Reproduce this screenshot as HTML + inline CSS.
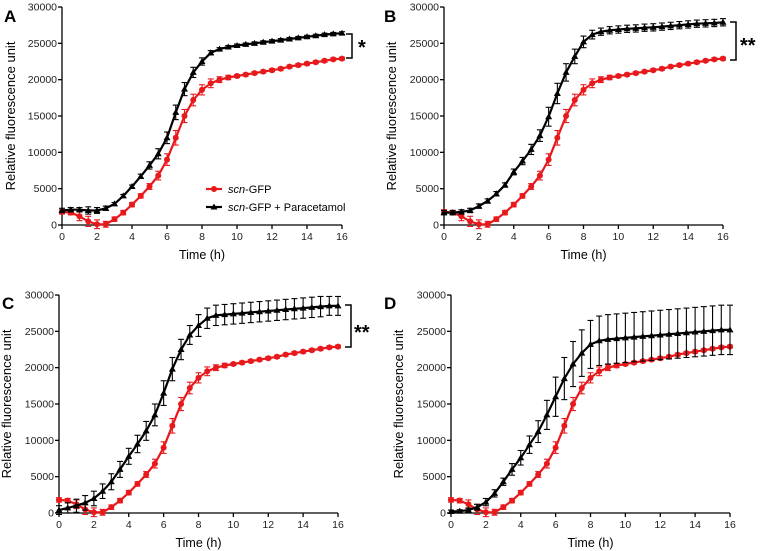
<!DOCTYPE html>
<html><head><meta charset="utf-8"><style>
html,body{margin:0;padding:0;background:#fff;}
svg{display:block;font-family:"Liberation Sans",Arial,sans-serif;}
</style></head><body>
<svg id="fig" width="760" height="551" viewBox="0 0 760 551"></svg>
<script>
const times = [];
for (let i = 0; i <= 32; i++) times.push(i * 0.5);
const yTicks = [0, 5000, 10000, 15000, 20000, 25000, 30000];
const xTicks = [0, 2, 4, 6, 8, 10, 12, 14, 16];
const redVals = [1800,1700,1200,500,100,100,800,1700,2800,4000,5300,6800,9000,12000,15000,17200,18600,19500,20000,20300,20500,20700,20900,21100,21300,21500,21800,22000,22200,22400,22600,22800,22900];
const redErr = [300,300,600,700,600,400,300,300,300,300,400,600,800,1000,900,800,700,600,400,300,200,200,200,200,200,200,200,200,200,200,200,200,200];
const blackA = [2000,2100,2100,2000,2000,2300,2900,4000,5300,6700,8200,9800,12000,15500,18700,21000,22500,23700,24200,24500,24700,24850,25000,25150,25300,25450,25600,25750,25900,26050,26200,26300,26400];
const errA = [300,300,300,500,400,300,200,200,200,300,500,700,800,1000,900,700,500,300,200,200,200,200,200,200,200,200,200,200,200,200,200,200,200];
const blackB = [1700,1700,1800,2000,2600,3300,4300,5500,7300,8800,10400,12300,14900,18100,21000,23200,25200,26200,26600,26800,26900,27000,27050,27150,27200,27300,27400,27500,27600,27700,27750,27800,27900];
const errB = [300,300,300,300,300,300,300,300,400,500,700,800,1300,1400,1200,1000,800,600,500,500,500,500,500,500,500,500,500,500,500,500,500,500,500];
const blackC = [400,700,1000,1400,2000,3000,4300,6000,7800,9500,11300,13500,16500,19800,22500,24500,25800,26800,27200,27300,27400,27500,27600,27700,27800,27900,28000,28100,28200,28300,28400,28500,28500];
const errC = [600,700,900,1000,1000,1000,1100,1100,1100,1200,1300,1500,1700,1600,1400,1300,1500,1400,1400,1400,1400,1400,1400,1400,1400,1400,1400,1400,1400,1400,1400,1300,1300];
const blackD = [200,250,400,800,1500,2700,4300,6000,7600,9400,11200,13500,16000,18500,20500,22000,23200,23700,23900,24000,24100,24200,24300,24400,24500,24600,24700,24800,24900,25000,25100,25200,25200];
const errD = [200,200,300,400,500,500,500,800,1000,1200,1500,2000,2700,2900,3100,3200,3300,3400,3400,3400,3400,3400,3400,3400,3400,3400,3400,3400,3400,3400,3400,3400,3400];

const NS = "http://www.w3.org/2000/svg";
const svg = document.getElementById("fig");
function mk(tag, attrs, parent) {
  const e = document.createElementNS(NS, tag);
  for (const k in attrs) e.setAttribute(k, attrs[k]);
  (parent || svg).appendChild(e);
  return e;
}

const panels = [
  {id:"a", label:"A", lx:4, ly:22, x0:62, x1:342, y0:225, y1:7, ytx:15, black:blackA, berr:errA, br:{x:352, ya:34, yb:58, s:"*", sx:358, sy:54}},
  {id:"b", label:"B", lx:384, ly:22, x0:444, x1:723, y0:225, y1:7, ytx:396, black:blackB, berr:errB, br:{x:736, ya:22, yb:60, s:"**", sx:740, sy:52}},
  {id:"c", label:"C", lx:2, ly:309, x0:59, x1:338, y0:513, y1:295, ytx:11, black:blackC, berr:errC, br:{x:351, ya:305, yb:347, s:"**", sx:354, sy:339}},
  {id:"d", label:"D", lx:384, ly:309, x0:451, x1:730, y0:513, y1:295, ytx:403, black:blackD, berr:errD, br:null}
];

panels.forEach(p => {
  const g = mk("g", {});
  
  
  const sx = t => p.x0 + (p.x1 - p.x0) * t / 16;
  const sy = v => p.y0 - (p.y0 - p.y1) * v / 30000;

  const lab = mk("text", {x:p.lx, y:p.ly, "font-size":"17", "font-weight":"bold"}, g);
  lab.textContent = p.label;
  
  

  const ax = mk("g", {stroke:"#000", "stroke-width":"1.3", fill:"none"}, g);
  
  
  mk("line", {x1:p.x0, y1:p.y0, x2:p.x0, y2:p.y1}, ax);
  mk("line", {x1:p.x0, y1:p.y0, x2:p.x1, y2:p.y0}, ax);
  yTicks.forEach(v => {
    mk("line", {x1:p.x0-4, y1:sy(v), x2:p.x0, y2:sy(v)}, ax);
    const t = mk("text", {x:p.x0-5, y:sy(v)+3.5, "font-size":"10.5", "text-anchor":"end", fill:"#222"}, g);
    t.textContent = v;
    
    
  });
  xTicks.forEach(v => {
    mk("line", {x1:sx(v), y1:p.y0, x2:sx(v), y2:p.y0+4}, ax);
    const t = mk("text", {x:sx(v), y:p.y0+15, "font-size":"10.5", "text-anchor":"middle", fill:"#222"}, g);
    t.textContent = v;
    
    
  });
  const cy = (p.y0 + p.y1) / 2;
  const yt = mk("text", {x:p.ytx, y:cy, "font-size":"13", "text-anchor":"middle", transform:`rotate(-90 ${p.ytx} ${cy})`}, g);
  yt.textContent = "Relative fluorescence unit";
  
  
  const xt = mk("text", {x:(p.x0+p.x1)/2, y:p.y0+34, "font-size":"12.5", "text-anchor":"middle"}, g);
  xt.textContent = "Time (h)";
  
  

  function series(vals, errs, color, marker, name) {
    const sg = mk("g", {}, g);
    
    
    const eg = mk("g", {stroke:color, "stroke-width":"1.1"}, sg);
    vals.forEach((v, i) => {
      const x = sx(times[i]), e = errs[i];
      mk("line", {x1:x, y1:sy(v-e), x2:x, y2:sy(v+e)}, eg);
      mk("line", {x1:x-3, y1:sy(v+e), x2:x+3, y2:sy(v+e)}, eg);
      mk("line", {x1:x-3, y1:sy(v-e), x2:x+3, y2:sy(v-e)}, eg);
    });
    const d = vals.map((v, i) => (i ? "L" : "M") + sx(times[i]).toFixed(1) + " " + sy(v).toFixed(1)).join(" ");
    mk("path", {d:d, stroke:color, "stroke-width":"2.2", fill:"none"}, sg);
    vals.forEach((v, i) => {
      const x = sx(times[i]), y = sy(v);
      if (marker === "c") mk("circle", {cx:x, cy:y, r:3, fill:color}, sg);
      else mk("path", {d:`M${x} ${y-3.5} L${x+3.5} ${y+2.5} L${x-3.5} ${y+2.5} Z`, fill:color}, sg);
    });
  }
  series(redVals, redErr, "#e8191c", "c", "series-scn-gfp");
  series(p.black, p.berr, "#000", "t", "series-scn-gfp-paracetamol");

  if (p.br) {
    const b = p.br;
    const bg = mk("g", {}, g);
    
    
    mk("path", {d:`M${b.x-6} ${b.ya} L${b.x} ${b.ya} L${b.x} ${b.yb} L${b.x-6} ${b.yb}`, stroke:"#000", "stroke-width":"1.5", fill:"none"}, bg);
    const st = mk("text", {x:b.sx, y:b.sy, "font-size":"20", "font-weight":"bold"}, bg);
    st.textContent = b.s;
  }
});

const lg = mk("g", {});


const l1 = mk("g", {}, lg);


mk("line", {x1:206, y1:189, x2:222, y2:189, stroke:"#e8191c", "stroke-width":"2.2"}, l1);
mk("circle", {cx:214, cy:189, r:3, fill:"#e8191c"}, l1);
const t1 = mk("text", {x:228, y:193, "font-size":"11"}, l1);
t1.innerHTML = '<tspan font-style="italic">scn</tspan>-GFP';
const l2 = mk("g", {}, lg);


mk("line", {x1:206, y1:207, x2:222, y2:207, stroke:"#000", "stroke-width":"2.2"}, l2);
mk("path", {d:"M214 203.5 L217.5 209.5 L210.5 209.5 Z", fill:"#000"}, l2);
const t2 = mk("text", {x:228, y:211, "font-size":"11"}, l2);
t2.innerHTML = '<tspan font-style="italic">scn</tspan>-GFP + Paracetamol';
</script>
</body></html>
